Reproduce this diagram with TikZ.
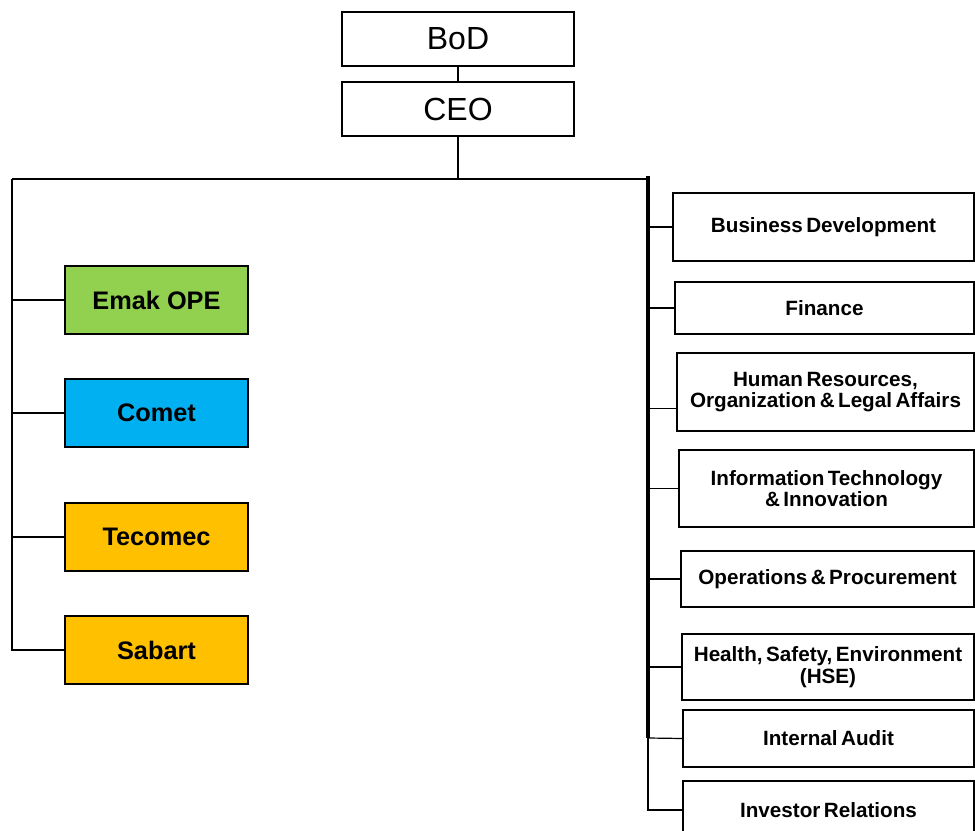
\documentclass[tikz,border=0pt]{standalone}
\usepackage{fontspec}
\setmainfont{Liberation Sans}
\newfontfamily\stafffont{Liberation Sans}[WordSpace=0.6]
\usetikzlibrary{calc}

\definecolor{emakgreen}{HTML}{92D050}
\definecolor{cometblue}{HTML}{00B0F0}
\definecolor{tecoorange}{HTML}{FFC000}

\tikzset{
  box/.style={draw, line width=0.9pt, inner sep=0pt, align=center},
  boxsize/.style 2 args={minimum width=#1*0.75pt, minimum height=#2*0.75pt},
  head/.style={box, boxsize={232}{54}, font=\fontsize{24}{26}\selectfont},
  unit/.style={box, boxsize={183}{68}, font=\bfseries\fontsize{19}{22}\selectfont},
  staff/.style={box, font=\stafffont\bfseries\fontsize{15.5}{16}\selectfont},
  wire/.style={line width=0.9pt},
}

\begin{document}
\begin{tikzpicture}[x=0.75pt, y=-0.75pt]
\useasboundingbox (0,0) rectangle (975,831);

% top
\node[head] (bod) at (458,39) {BoD};
\node[head] (ceo) at (458,109) {CEO};

% business units
\node[unit, fill=emakgreen] (emak) at (156.5,300) {Emak OPE};
\node[unit, fill=cometblue] (comet) at (156.5,413) {Comet};
\node[unit, fill=tecoorange] (tecomec) at (156.5,537) {Tecomec};
\node[unit, fill=tecoorange] (sabart) at (156.5,650) {Sabart};

% corporate functions
\node[staff, boxsize={301}{68}] (busdev) at (823.5,227) {Business Development};
\node[staff, boxsize={299}{52}] (finance) at (824.5,308) {Finance};
\node[staff, boxsize={297}{78}] (hr) at (825.5,392) {Human Resources,\\Organization \& Legal Affairs};
\node[staff, boxsize={295}{77}] (it) at (826.5,488.5) {Information Technology\\\& Innovation};
\node[staff, boxsize={293}{56}] (ops) at (827.5,579) {Operations \& Procurement};
\node[staff, boxsize={292}{66}] (hse) at (828,667) {Health, Safety, Environment\\(HSE)};
\node[staff, boxsize={291}{57}] (audit) at (828.5,738.5) {Internal Audit};
\node[staff, boxsize={291}{58}] (investor) at (828.5,810) {Investor Relations};

\coordinate (lbus) at (12,179);
\coordinate (rbus) at (648,179);
\coordinate (rtop) at (648,176);
\coordinate (rend) at (648,738);

\begin{scope}[wire]
  \draw (bod.south) -- (ceo.north);
  \draw (ceo.south) -- (ceo.south |- lbus);
  \draw (lbus) -- (rbus);
  \draw (lbus) |- (sabart.west);
  \draw (emak.west) -- (lbus |- emak.west);
  \draw (comet.west) -- (lbus |- comet.west);
  \draw (tecomec.west) -- (lbus |- tecomec.west);

  \draw (busdev.west) -- (rbus |- busdev.west);
  \draw (finance.west) -- (rbus |- finance.west);
  \coordinate (hrlink) at ($(hr.west)!0.41!(hr.south west)$);
  \draw (hrlink) -- (rbus |- hrlink);
  \draw (it.west) -- (rbus |- it.west);
  \draw (ops.west) -- (rbus |- ops.west);
  \draw (hse.west) -- (rbus |- hse.west);
  \draw (audit.west) -- (rend);
  \draw (rend) |- (investor.west);
\end{scope}

\draw[line width=3pt] (rtop) -- (rend);

\end{tikzpicture}
\end{document}
